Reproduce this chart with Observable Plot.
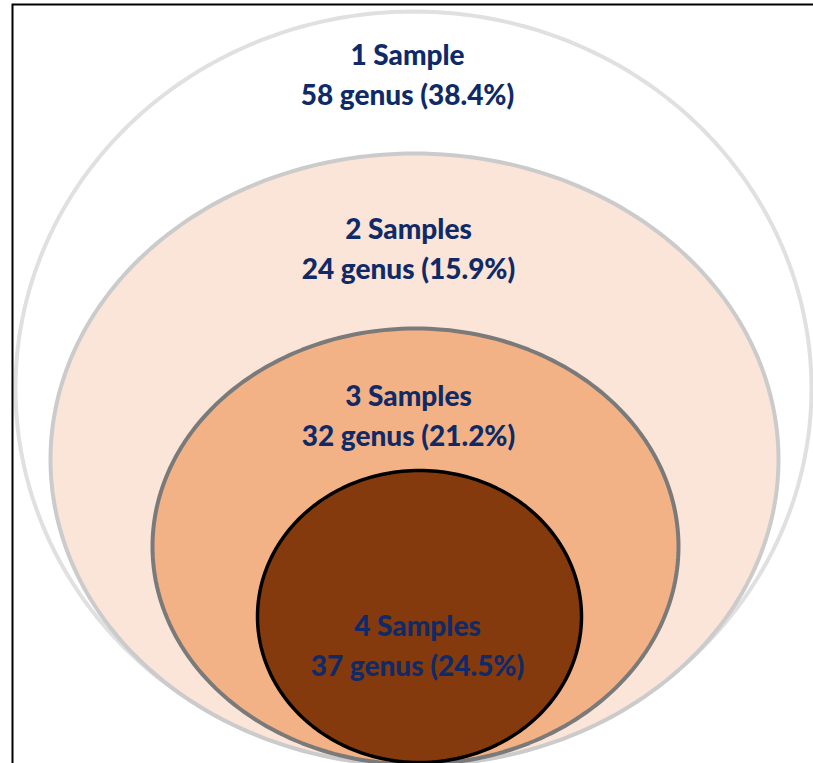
<!DOCTYPE html>
<html>
<head>
<meta charset="utf-8">
<script src="https://cdn.jsdelivr.net/npm/d3@7"></script>
<script src="https://cdn.jsdelivr.net/npm/@observablehq/plot@0.6"></script>
<style>
  html, body { margin: 0; padding: 0; background: #fff; }
  #chart { width: 813px; height: 763px; overflow: hidden; }
</style>
</head>
<body>
<div id="chart"></div>
<script>
// ---- data ----
const categories = ["1 Sample", "2 Samples", "3 Samples", "4 Samples"];
const genusCounts = [58, 24, 32, 37];
const genusPercents = ["38.4", "15.9", "21.2", "24.5"];

// ---- layout (schematic nested ellipses, in page pixel units) ----
const ellipseLayout = [
  {cx: 413, cy: 388, rx: 398, ry: 377, labelX: 407, labelY: 72,  fill: "#ffffff", stroke: "#e0e0e0", sw: 4},
  {cx: 414, cy: 459, rx: 364, ry: 306, labelX: 408, labelY: 246, fill: "#fae5d8", stroke: "#cbcbcb", sw: 4},
  {cx: 415, cy: 546, rx: 263, ry: 218, labelX: 408, labelY: 413, fill: "#f3b286", stroke: "#7a7a7a", sw: 4},
  {cx: 419, cy: 616, rx: 162, ry: 146, labelX: 417, labelY: 643, fill: "#843a0c", stroke: "#000000", sw: 3.5}
];

const W = 813, H = 763;
const N = 240;
const marks = [];

ellipseLayout.forEach((e, i) => {
  const pts = d3.range(N).map(k => {
    const t = (k / N) * 2 * Math.PI;
    return {x: e.cx + e.rx * Math.cos(t), y: e.cy + e.ry * Math.sin(t), k: categories[i]};
  });
  marks.push(Plot.line(pts, {
    x: "x", y: "y", curve: "linear-closed",
    fill: e.fill, stroke: e.stroke, strokeWidth: e.sw
  }));
});

const labels = categories.map((c, i) => ({
  x: ellipseLayout[i].labelX,
  y: ellipseLayout[i].labelY,
  text: `${c}\n${genusCounts[i]} genus (${genusPercents[i]}%)`
}));

marks.push(Plot.text(labels, {
  x: "x", y: "y", text: "text",
  lineAnchor: "middle", lineHeight: 1.4,
  fontSize: 28, fontWeight: 900,
  fontFamily: "Lato, 'Open Sans', sans-serif",
  fill: "#0f2a66"
}));

// border frame
marks.push(Plot.frame({stroke: "#000", strokeWidth: 2, insetLeft: 12, insetTop: 4, insetRight: -20, insetBottom: -20}));

const chart = Plot.plot({
  width: W, height: H,
  margin: 0,
  x: {domain: [0, W], axis: null},
  y: {domain: [0, H], reverse: true, axis: null},
  style: {background: "transparent"},
  marks
});
document.getElementById("chart").appendChild(chart);
</script>
</body>
</html>
